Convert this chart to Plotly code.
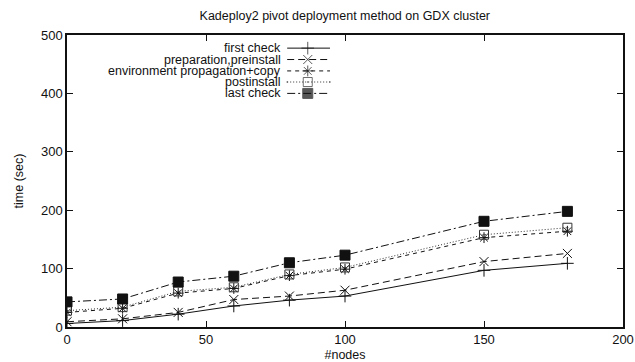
import plotly.graph_objects as go

nodes = [0, 20, 40, 60, 80, 100, 150, 180]
first_check = [6, 11, 22, 36, 46, 53, 97, 109]
preparation = [9, 14, 25, 47, 53, 63, 112, 126]
env_propagation = [25, 32, 58, 66, 88, 99, 153, 164]
postinstall = [28, 34, 61, 68, 90, 102, 158, 170]
last_check = [43, 48, 77, 87, 110, 123, 181, 198]

names = ["first check", "preparation,preinstall", "environment propagation+copy",
         "postinstall", "last check"]
series = [first_check, preparation, env_propagation, postinstall, last_check]
styles = [
    dict(dash="solid", symbol="cross-thin-open", size=9, color="#111"),
    dict(dash="7px,4px", symbol="x-thin-open", size=9, color="#111"),
    dict(dash="4px,4px", symbol="asterisk-open", size=9, color="#111"),
    dict(dash="1px,2px", symbol="square-open-dot", size=9, color="#333"),
    dict(dash="8px,3px,2px,3px", symbol="square", size=10, color="#111"),
]

fig = go.Figure()
for name, ys, st in zip(names, series, styles):
    fig.add_trace(go.Scatter(
        x=nodes, y=ys, mode="lines+markers", name=name, showlegend=False,
        line=dict(color=st["color"], width=1, dash=st["dash"]),
        marker=dict(symbol=st["symbol"], size=st["size"], color=st["color"],
                    line=dict(color=st["color"], width=1)),
    ))

# custom gnuplot-style key (text left, sample right)
key_rows = [0.955, 0.916, 0.877, 0.839, 0.800]
kx0, kxm, kx1 = 0.396, 0.433, 0.473
for name, st, ry in zip(names, styles, key_rows):
    fig.add_trace(go.Scatter(
        x=[kx0, kxm, kx1], y=[ry, ry, ry], xaxis="x2", yaxis="y2",
        mode="lines+markers", showlegend=False, hoverinfo="skip",
        line=dict(color=st["color"], width=1, dash=st["dash"]),
        marker=dict(symbol=st["symbol"], size=[0, st["size"], 0], color=st["color"],
                    line=dict(color=st["color"], width=1)),
    ))
    fig.add_annotation(x=0.387, y=ry, xref="paper", yref="paper", text=name,
                       showarrow=False, xanchor="right", yanchor="middle",
                       borderpad=0, font=dict(size=12.5, color="#111"))

axis_common = dict(showline=True, mirror="ticks", linecolor="#111", linewidth=1.5,
                   ticks="inside", ticklen=6, tickcolor="#111", tickwidth=1,
                   showgrid=False, zeroline=False, automargin=False,
                   tickfont=dict(size=13, color="#111"))

fig.update_layout(
    width=635, height=362,
    margin=dict(l=67, r=12, t=35, b=35),
    paper_bgcolor="white", plot_bgcolor="white",
    font=dict(family="Liberation Sans, Arial, sans-serif", color="#111"),
    title=dict(text="Kadeploy2 pivot deployment method on GDX cluster",
               x=0.543, xanchor="center", y=0.958, yanchor="middle",
               font=dict(size=12.5, color="#111")),
    xaxis=dict(range=[0, 200], tickvals=[0, 50, 100, 150, 200],
               title=dict(text="#nodes", font=dict(size=12.5)), **axis_common),
    yaxis=dict(range=[0, 500], tickvals=[0, 100, 200, 300, 400, 500],
               title=dict(text="time (sec)", font=dict(size=12.5)), **axis_common),
    xaxis2=dict(range=[0, 1], overlaying="x", visible=False),
    yaxis2=dict(range=[0, 1], overlaying="y", visible=False),
)

fig.write_html("out.html")
